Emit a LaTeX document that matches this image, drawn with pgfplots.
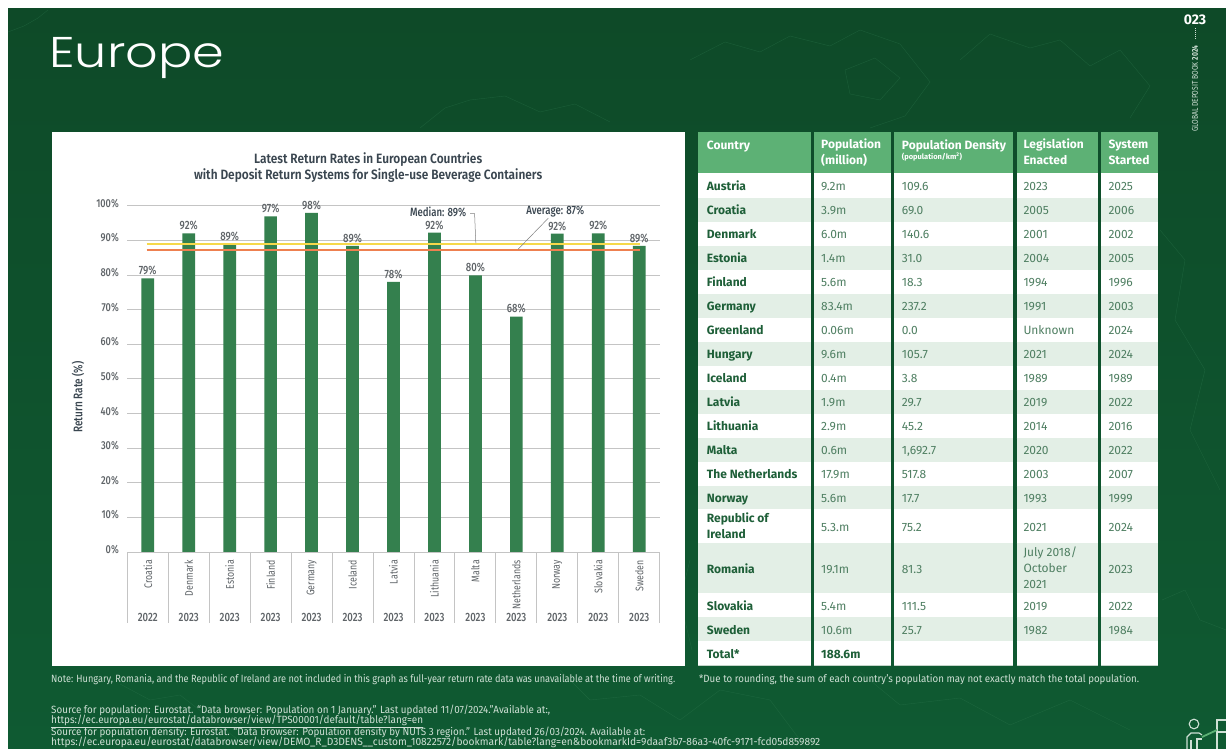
\documentclass[border=0pt]{standalone}
\usepackage{fontspec}
\usepackage{graphicx}
\usepackage{pgfplots}
\pgfplotsset{compat=1.18}
\setmainfont{Fira Sans}
\newfontfamily\cond[FakeStretch=0.8]{Fira Sans}
\newfontfamily\condm[FakeStretch=0.8,UprightFont=* Medium]{Fira Sans}
\newfontfamily\condt[FakeStretch=0.88,UprightFont=* SemiBold]{Fira Sans}
\newfontfamily\popl[UprightFont=* Light]{Poppins}
\definecolor{bgtop}{HTML}{0E4A28}
\definecolor{bgbot}{HTML}{0F5A32}
\definecolor{mapline}{HTML}{2F7A50}
\definecolor{barg}{HTML}{34804E}
\definecolor{headg}{HTML}{5DB175}
\definecolor{altrow}{HTML}{E3EFE6}
\definecolor{rowline}{HTML}{C3D4C9}
\definecolor{namec}{HTML}{1E5F38}
\definecolor{valc}{HTML}{4F7F62}
\definecolor{gridc}{HTML}{C4C4C4}
\definecolor{labc}{HTML}{5F6468}
\definecolor{titc}{HTML}{3A4650}
\definecolor{notec}{HTML}{CFE0D5}
\definecolor{medc}{HTML}{F6D84A}
\definecolor{avgc}{HTML}{EE8050}
\newcommand{\fitw}[2]{\resizebox{#1pt}{\height}{#2}}
% one table row: top, bottom, fill, then the five cells
\newcommand{\trow}[8]{%
  \pgfmathsetmacro{\rmid}{(#1+#2)/2+1.6}
  \foreach \xa/\xb in {698.3/811,814.3/891,894/1013.3,1016.7/1097.7,1101/1158.3}{
    \fill[#3] (\xa,#1) rectangle (\xb,#2);
    \draw[rowline,line width=0.7pt] (\xa,#2) -- (\xb,#2);
  }
  \node[cellb] at (706.7,\rmid) {#4};
  \node[cell] at (821,\rmid) {#5};
  \node[cell] at (901.7,\rmid) {#6};
  \node[cell] at (1023.3,\rmid) {#7};
  \node[cell] at (1108.3,\rmid) {#8};
}
\begin{document}
\begin{tikzpicture}
\begin{scope}[x=1pt,y=-1pt,yshift=749pt,
  cell/.style={anchor=west,inner sep=0pt,align=left,text=valc,font=\fontsize{12}{16}\selectfont,
    execute at begin node=\strut,execute at end node=\strut},
  cellb/.style={cell,text=namec,font=\bfseries\fontsize{12}{16}\selectfont},
  head/.style={cell,text=white,font=\bfseries\fontsize{12}{16}\selectfont}]
\useasboundingbox (0,0) rectangle (1226,749);
\fill[white] (0,0) rectangle (1226,749);
\shade[top color=bgtop,bottom color=bgbot] (8,9) rectangle (1226,749);
% faint map outlines
\begin{scope}[mapline,line width=0.4pt,opacity=0.4]
\draw (8,32) -- (24,26) -- (38,18) -- (48,10);
\draw (420,128) -- (445,108) -- (470,100) -- (505,96) -- (540,112) -- (575,104) -- (610,122);
\draw (690,60) -- (725,42) -- (760,52) -- (790,36) -- (830,46) -- (860,30) -- (900,44) -- (930,82) -- (905,116) -- (870,128);
\draw (845,70) -- (875,58) -- (900,78) -- (880,100) -- (850,94) -- cycle;
\draw (960,60) -- (990,34) -- (1030,48) -- (1060,40) -- (1090,66) -- (1120,50) -- (1150,86) -- (1130,118);
\draw (1160,230) -- (1185,260) -- (1175,320) -- (1205,370) -- (1190,430) -- (1220,490);
\draw (1162,600) -- (1185,590) -- (1200,620) -- (1226,630);
\draw (120,684) -- (150,700) -- (180,695) -- (215,722) -- (245,745);
\draw (560,670) -- (590,700) -- (640,695) -- (680,720) -- (720,690) -- (770,700) -- (800,740);
\draw (860,672) -- (900,705) -- (960,698) -- (1010,725) -- (1070,700) -- (1130,730);
\draw (690,560) -- (680,600) -- (692,650);
\end{scope}
\node[anchor=base west,inner sep=0pt,text=white] at (49,68) {\fitw{175}{\popl\fontsize{43}{46}\selectfont Europe}};
\fill[white] (51.7,132) rectangle (685,666);
% right hand table
\foreach \xa/\xb in {698.3/811,814.3/891,894/1013.3,1016.7/1097.7,1101/1158.3}
  \fill[headg] (\xa,132) rectangle (\xb,172.7);
\node[head] at (706.7,146.3) {Country};
\node[head] at (821,154.3) {Population\\(million)};
\node[head] at (901.7,146.3) {Population Density};
\node[anchor=west,inner sep=0pt,text=white,font=\bfseries\fontsize{7.5}{9}\selectfont] at (901.7,157) {(population/km\textsuperscript{2})};
\node[head] at (1023.3,154.3) {Legislation\\Enacted};
\node[head] at (1108.3,154.3) {System\\Started};
\trow{172.7}{198}{white}{Austria}{9.2m}{109.6}{2023}{2025}
\trow{198}{222}{altrow}{Croatia}{3.9m}{69.0}{2005}{2006}
\trow{222}{246}{white}{Denmark}{6.0m}{140.6}{2001}{2002}
\trow{246}{270}{altrow}{Estonia}{1.4m}{31.0}{2004}{2005}
\trow{270}{294}{white}{Finland}{5.6m}{18.3}{1994}{1996}
\trow{294}{318}{altrow}{Germany}{83.4m}{237.2}{1991}{2003}
\trow{318}{342}{white}{Greenland}{0.06m}{0.0}{Unknown}{2024}
\trow{342}{366}{altrow}{Hungary}{9.6m}{105.7}{2021}{2024}
\trow{366}{390}{white}{Iceland}{0.4m}{3.8}{1989}{1989}
\trow{390}{414}{altrow}{Latvia}{1.9m}{29.7}{2019}{2022}
\trow{414}{438}{white}{Lithuania}{2.9m}{45.2}{2014}{2016}
\trow{438}{462}{altrow}{Malta}{0.6m}{1,692.7}{2020}{2022}
\trow{462}{486}{white}{The Netherlands}{17.9m}{517.8}{2003}{2007}
\trow{486}{509.5}{altrow}{Norway}{5.6m}{17.7}{1993}{1999}
\trow{509.5}{543}{white}{Republic of\\Ireland}{5.3.m}{75.2}{2021}{2024}
\trow{543}{593.5}{altrow}{Romania}{19.1m}{81.3}{July 2018/\\October\\2021}{2023}
\trow{593.5}{617.5}{white}{Slovakia}{5.4m}{111.5}{2019}{2022}
\trow{617.5}{641.5}{altrow}{Sweden}{10.6m}{25.7}{1982}{1984}
\trow{641.5}{665.5}{white}{Total*}{\textcolor{namec}{\textbf{188.6m}}}{}{}{}
% notes
\begin{scope}[every node/.style={anchor=west,inner sep=0pt,text=notec,font=\fontsize{10.5}{12}\selectfont}]
\node at (51,680) {\fitw{624}{Note: Hungary, Romania, and the Republic of Ireland are not included in this graph as full-year return rate data was unavailable at the time of writing.}};
\node at (699,680) {\fitw{440}{*Due to rounding, the sum of each country’s population may not exactly match the total population.}};
\node at (51,710) {\fitw{499}{Source for population: Eurostat. “Data browser: Population on 1 January.” Last updated 11/07/2024.”Available at:,}};
\node at (51,721) {\fitw{372}{\underline{https://ec.europa.eu/eurostat/databrowser/view/TPS00001/default/table?lang=en}}};
\node at (51,732) {\fitw{594}{Source for population density: Eurostat. “Data browser: Population density by NUTS 3 region.” Last updated 26/03/2024. Available at:}};
\node at (51,743) {\fitw{769}{\underline{https://ec.europa.eu/eurostat/databrowser/view/DEMO\_R\_D3DENS\_\_custom\_10822572/bookmark/table?lang=en\&bookmarkId=9daaf3b7-86a3-40fc-9171-fcd05d859892}}};
\end{scope}
% page furniture
\node[text=white,inner sep=0pt,font=\bfseries\fontsize{14}{16}\selectfont] at (1195,19.5) {023};
\draw[notec,line width=0.6pt,dash pattern=on 0.8pt off 1.2pt] (1195,28) -- (1195,39);
\node[rotate=90,anchor=west,inner sep=0pt,text=notec,font=\cond\fontsize{8.4}{10}\selectfont] at (1195,132) {GLOBAL DEPOSIT BOOK \textbf{2024}};
% icon
\begin{scope}[notec,line width=1.1pt]
\draw (1194,724) circle (4.8);
\draw (1187,749) -- (1187,737) -- (1191,733) -- (1199,733) -- (1202,735);
\draw (1191,749) -- (1191,740) (1197,749) -- (1197,739) -- (1202,739);
\draw (1217,749) -- (1217,720) -- (1226,720);
\draw (1217,732) -- (1226,732);
\draw[headg,line width=1.8pt] (1202,737) -- (1217,730);
\end{scope}
\end{scope}
\begin{axis}[
  at={(127.3pt,197pt)}, anchor=south west,
  scale only axis, width=532.4pt, height=346.3pt,
  clip=false,
  xmin=-0.5, xmax=12.5, ymin=0, ymax=100,
  axis lines*=left,
  x axis line style={draw=gridc,line width=0.9pt},
  y axis line style={draw=none},
  ytick={0,10,...,100},
  yticklabels={0\%,10\%,20\%,30\%,40\%,50\%,60\%,70\%,80\%,90\%,100\%},
  ytick style={draw=none},
  ymajorgrids,
  grid style={draw=gridc,line width=0.8pt},
  y tick label style={font=\condm\fontsize{11.5}{13}\selectfont,text=labc,xshift=-5pt,yshift=2.3pt},
  xtick={0,...,12},
  xticklabels={Croatia,Denmark,Estonia,Finland,Germany,Iceland,Latvia,Lithuania,Malta,Netherlands,Norway,Slovakia,Sweden},
  major tick length=0pt,
  x tick label style={rotate=90,anchor=east,inner sep=0pt,font=\cond\fontsize{11}{13}\selectfont,text=labc,xshift=-8pt},
  minor xtick={-0.5,0.5,1.5,2.5,3.5,4.5,5.5,6.5,7.5,8.5,9.5,10.5,11.5,12.5},
  minor tick length=70.7pt,
  tick align=outside,
  minor tick style={draw=gridc,line width=0.9pt},
  title={Latest Return Rates in European Countries\\with Deposit Return Systems for Single-use Beverage Containers},
  title style={at={(axis description cs:0.4524,1.094)},anchor=center,align=center,inner sep=0pt,text=titc,
    font=\condt\fontsize{13.5}{16}\selectfont},
  ylabel={Return Rate (\%)},
  every axis y label/.style={at={(axis description cs:-0.0927,0.4476)},rotate=90,anchor=center,
    inner sep=0pt,text=titc,font=\condm\fontsize{12.5}{14}\selectfont},
]
\addplot[ybar, bar width=12.7pt, fill=barg, draw=none,
  point meta=explicit symbolic, nodes near coords,
  nodes near coords style={anchor=south,inner sep=3pt,text=labc,font=\condm\fontsize{12}{14}\selectfont}]
coordinates {
  (0,79.0) [79\%]
  (1,92.0) [92\%]
  (2,88.9) [89\%]
  (3,96.9) [97\%]
  (4,97.9) [98\%]
  (5,88.4) [89\%]
  (6,78.0) [78\%]
  (7,92.2) [92\%]
  (8,79.9) [80\%]
  (9,68.0) [68\%]
  (10,91.9) [92\%]
  (11,92.0) [92\%]
  (12,88.4) [89\%]
};
% country years under the axis
\addplot[only marks, mark=none, draw=none,
  point meta=explicit symbolic, nodes near coords,
  nodes near coords style={anchor=center,inner sep=0pt,text=labc,font=\condm\fontsize{12}{14}\selectfont}]
coordinates {
  (0,-18.8) [2022] (1,-18.8) [2023] (2,-18.8) [2023] (3,-18.8) [2023]
  (4,-18.8) [2023] (5,-18.8) [2023] (6,-18.8) [2023] (7,-18.8) [2023]
  (8,-18.8) [2023] (9,-18.8) [2023] (10,-18.8) [2023] (11,-18.8) [2023]
  (12,-18.8) [2023]
};
% median and average
\addplot[color=medc, line width=1.9pt, forget plot] coordinates {(-0.03,88.9) (12.03,88.9)};
\addplot[color=avgc, line width=1.9pt, forget plot] coordinates {(-0.03,87.2) (12.03,87.2)};
\addplot[color=gray, line width=0.5pt, forget plot] coordinates {(7.87,97.7) (7.98,97.7) (8.01,89.2)};
\addplot[color=gray, line width=0.5pt, forget plot] coordinates {(9.78,96.4) (9.04,87.4)};
\node[inner sep=0pt,text=titc,font=\condm\fontsize{12}{14}\selectfont] at (axis cs:7.09,98.2) {Median: 89\%};
\node[inner sep=0pt,text=titc,font=\condm\fontsize{12}{14}\selectfont] at (axis cs:9.95,98.2) {Average: 87\%};
\end{axis}
\end{tikzpicture}
\end{document}
